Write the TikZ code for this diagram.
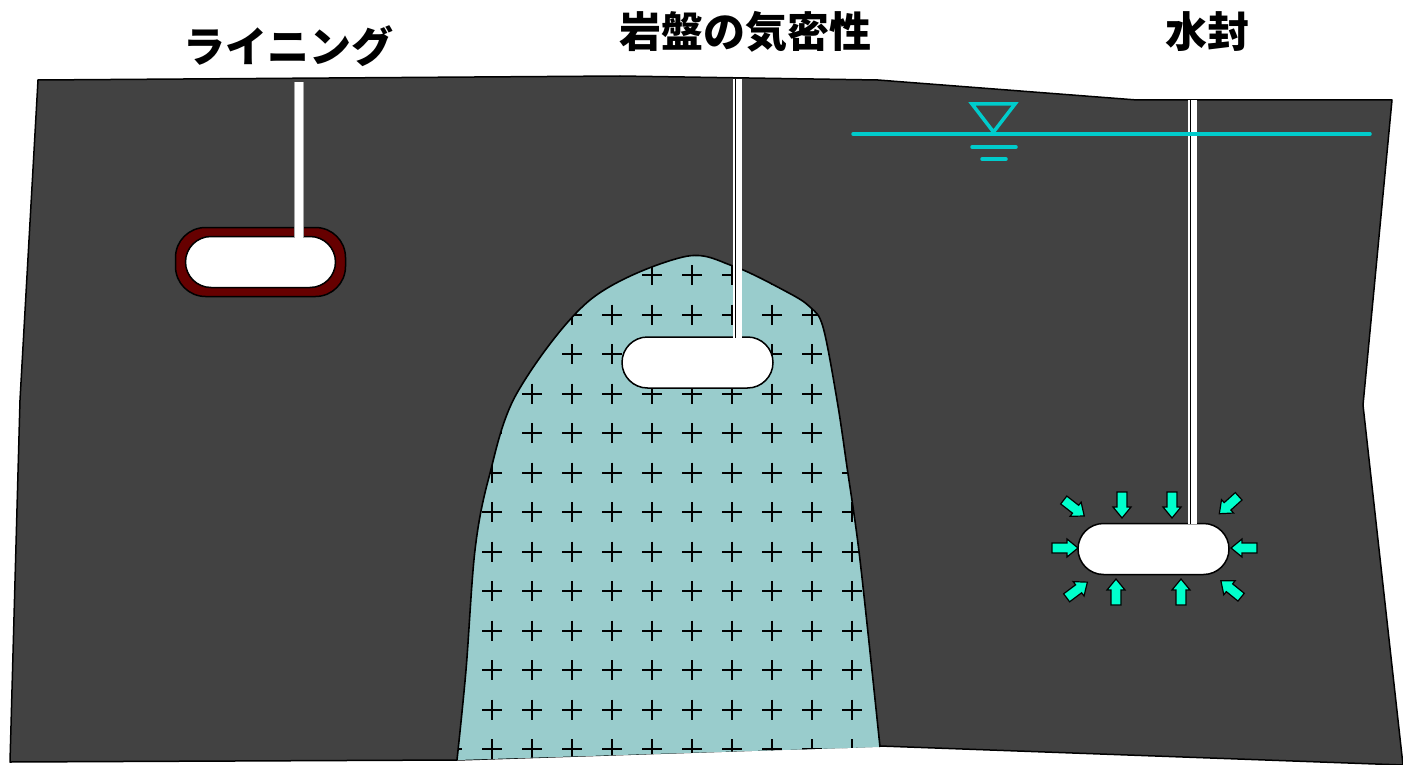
\documentclass[tikz,border=0pt]{standalone}
\usepackage{fontspec}
\newfontfamily\jp{Noto Sans CJK JP}
\usetikzlibrary{shapes.misc}
\definecolor{rock}{RGB}{66,66,66}
\definecolor{plugfill}{RGB}{153,204,204}
\definecolor{lining}{RGB}{102,0,0}
\definecolor{water}{RGB}{0,204,204}
\definecolor{seep}{RGB}{0,255,204}
\tikzset{
  title/.style={font=\jp\bfseries\fontsize{42}{46}\selectfont, inner sep=0pt},
  cavern/.style={rounded rectangle, draw=black, line width=1.5pt, fill=white,
    minimum width=151pt, minimum height=51pt, inner sep=0pt},
  liningbox/.style={rectangle, rounded corners=30pt, draw=black, line width=1.5pt,
    fill=lining, minimum width=170pt, minimum height=69pt, inner sep=0pt},
  shaftcore/.style={draw=black, line width=1.6pt},
  waterline/.style={draw=water, line width=3.5pt, line cap=round},
  cross/.style={draw=black, line width=2pt},
  pics/seeparrow/.style={code={
    \draw[fill=seep, draw=black, line width=1.2pt, line join=miter]
      (-13,-5) -- (2,-5) -- (2,-9) -- (13,0) -- (2,9) -- (2,5) -- (-13,5) -- cycle;
  }},
}
\begin{document}
\begin{tikzpicture}[x=1pt,y=-1pt]
\useasboundingbox (0,0) rectangle (1403,765);

% rock mass
\draw[fill=rock, line width=1.5pt, line join=round]
  (38,80) -- (620,76) -- (878,80) -- (1137,100) -- (1392,100)
  -- (1363,405) -- (1403,765) -- (880,746) -- (457,760) -- (10,762)
  -- (20,400) -- cycle;

% tight rock body with its cross hatching
\path[fill=plugfill]
  (457,760) -- plot[smooth, tension=0.55] coordinates {(457,760) (466,670) (475,550) (489,477)
    (517,393) (590,300) (683,257) (733,266) (787,292) (810,307) (823,327)
    (837,400) (847,467) (860,560) (880,747)} -- cycle;
\begin{scope}
  \clip (457,760) -- plot[smooth, tension=0.55] coordinates {(457,760) (466,670) (475,550) (489,477)
    (517,393) (590,300) (683,257) (733,266) (787,292) (810,307) (823,327)
    (837,400) (847,467) (860,560) (880,747)} -- cycle;
  \foreach \i in {0,...,12}{
    \foreach \j in {0,...,10}{
      \pgfmathsetmacro{\cx}{452+40*\j}
      \pgfmathsetmacro{\cy}{275+39.5*\i}
      \draw[cross] (\cx-10,\cy) -- (\cx+10,\cy) (\cx,\cy-10) -- (\cx,\cy+10);
    }
  }
\end{scope}
\draw[line width=1.6pt, line join=round]
  plot[smooth, tension=0.55] coordinates {(457,760) (466,670) (475,550) (489,477)
    (517,393) (590,300) (683,257) (733,266) (787,292) (810,307) (823,327)
    (837,400) (847,467) (860,560) (880,747)};

% titles
\node[title] (t1) at (288,46) {ライニング};
\node[title] (t2) at (745,32) {岩盤の気密性};
\node[title] (t3) at (1207,32) {水封};

% lined cavern
\node[liningbox] (lin) at (260.5,262) {};
\node[cavern, minimum width=150pt, minimum height=51pt] (c1) at (260.5,262) {};
\coordinate (s1top) at (299,82);
\fill[white] (294.5,82) rectangle (303.5,238);
\draw[gray!70, line width=0.8pt] (294.5,82) -- (294.5,238) (303.5,82) -- (303.5,238);

% cavern in tight rock
\node[cavern] (c2) at (697.5,362.5) {};
\coordinate (s2top) at (737,79);
\fill[white] (732.5,79) rectangle (741.5,338);
\draw[shaftcore] (735.5,79) -- (735.5,338);

% water-sealed cavern
\node[cavern] (c3) at (1153.5,549) {};
\coordinate (s3top) at (1192,100);
\fill[white] (1187.5,100) rectangle (1196.5,524);
\draw[shaftcore] (1190.5,100) -- (1190.5,524);

% groundwater level
\coordinate (wl) at (853,134);
\coordinate (wr) at (1370,134);
\draw[waterline] (wl) -- (wr);
\draw[draw=water, line width=3.5pt, line join=miter] (972,104) -- (1015,104) -- (993.5,132) -- cycle;
\draw[waterline] (972,147) -- (1016,147);
\draw[waterline] (982,159) -- (1006,159);

% seepage pressure arrows
\pic[rotate=-90] at (1122,505) {seeparrow};
\pic[rotate=-90] at (1172,505) {seeparrow};
\pic[rotate=90] at (1116,592) {seeparrow};
\pic[rotate=90] at (1181,592) {seeparrow};
\pic[rotate=0] at (1065,548) {seeparrow};
\pic[rotate=180] at (1244,548) {seeparrow};
\pic[rotate=-38] at (1074,508) {seeparrow};
\pic[rotate=-138] at (1229,505) {seeparrow};
\pic[rotate=37] at (1077,590) {seeparrow};
\pic[rotate=141] at (1231,589) {seeparrow};
\end{tikzpicture}
\end{document}
